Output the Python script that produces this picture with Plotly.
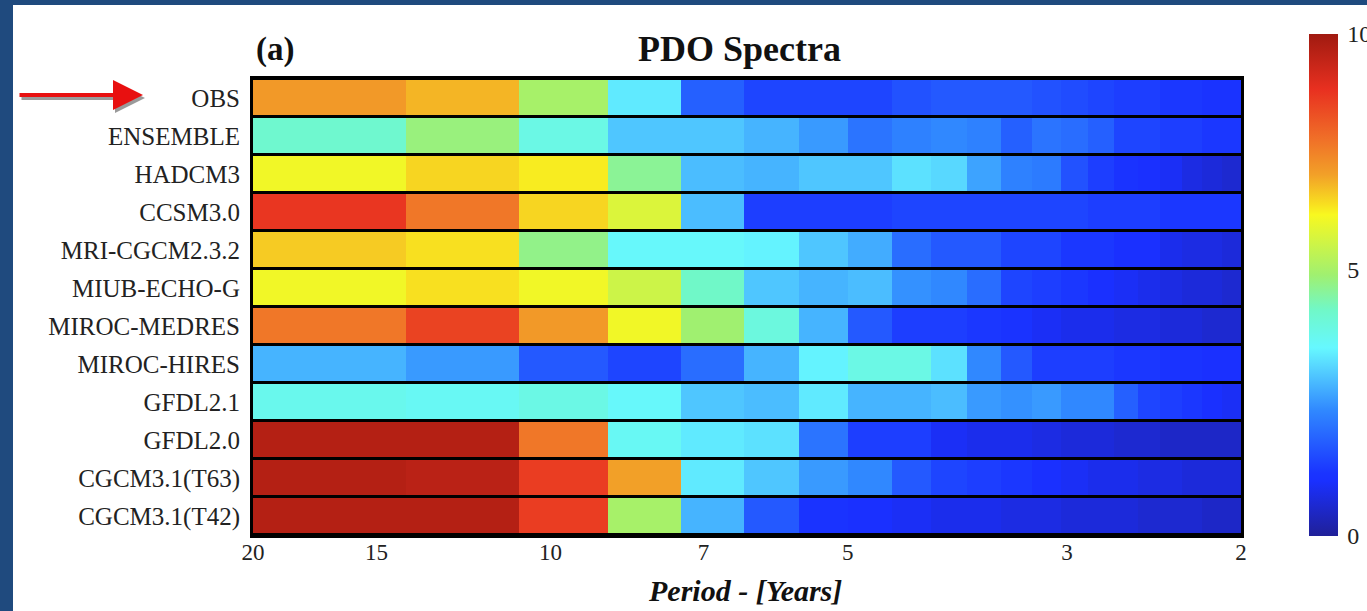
import plotly.graph_objects as go

# ---------------- data ----------------
models = ["OBS", "ENSEMBLE", "HADCM3", "CCSM3.0", "MRI-CGCM2.3.2", "MIUB-ECHO-G",
          "MIROC-MEDRES", "MIROC-HIRES", "GFDL2.1", "GFDL2.0", "CGCM3.1(T63)", "CGCM3.1(T42)"]

# period bin edges (years), from 20 down to 2
period_edges = [20.0, 14.0, 10.769, 8.75, 7.368, 6.364, 5.6, 5.0, 4.516, 4.118, 3.784,
                3.5, 3.256, 3.043, 2.857, 2.692, 2.545, 2.414, 2.295, 2.188, 2.090, 2.0]

obs       = [7.3, 7.0, 5.3, 3.6, 1.9, 1.5, 1.5, 1.5, 1.7, 1.8, 1.8, 1.8, 1.7, 1.6, 1.5, 1.4, 1.4, 1.3, 1.3, 1.2, 1.2]
ensemble  = [4.4, 5.1, 4.1, 3.2, 3.2, 3.0, 2.7, 2.2, 2.4, 2.5, 2.4, 1.9, 2.2, 2.1, 1.9, 1.5, 1.5, 1.4, 1.4, 1.3, 1.3]
hadcm3    = [6.3, 6.7, 6.5, 4.9, 3.1, 3.0, 3.2, 3.2, 3.5, 3.4, 2.8, 2.4, 2.3, 1.7, 1.4, 1.2, 1.1, 1.0, 0.8, 0.7, 0.6]
ccsm3     = [8.8, 7.8, 6.7, 6.0, 3.1, 1.4, 1.4, 1.4, 1.5, 1.5, 1.5, 1.5, 1.5, 1.5, 1.4, 1.4, 1.4, 1.3, 1.3, 1.3, 1.3]
mri       = [6.8, 6.6, 5.0, 3.8, 3.8, 3.7, 3.2, 2.9, 2.1, 1.8, 1.8, 1.5, 1.5, 1.3, 1.3, 1.1, 1.1, 0.9, 0.8, 0.8, 0.7]
miub      = [6.3, 6.6, 6.3, 5.8, 4.5, 3.2, 3.0, 3.1, 2.6, 2.5, 2.1, 1.5, 1.4, 1.3, 1.1, 1.0, 0.9, 0.8, 0.7, 0.7, 0.6]
miroc_med = [7.8, 8.6, 7.3, 6.3, 5.2, 4.2, 3.0, 1.8, 1.4, 1.4, 1.3, 1.2, 1.0, 0.9, 0.9, 0.8, 0.8, 0.7, 0.7, 0.6, 0.6]
miroc_hi  = [3.0, 2.7, 1.8, 1.5, 2.1, 3.0, 3.7, 4.1, 4.1, 3.5, 2.5, 1.8, 1.4, 1.4, 1.4, 1.3, 1.3, 1.2, 1.2, 1.1, 1.1]
gfdl21    = [4.0, 3.9, 4.1, 3.8, 3.2, 3.1, 3.6, 3.0, 3.0, 3.1, 2.7, 2.6, 2.7, 2.5, 2.5, 1.9, 1.5, 1.4, 1.3, 1.1, 1.0]
gfdl20    = [9.7, 9.7, 7.8, 3.9, 3.6, 3.5, 2.2, 1.4, 1.4, 1.0, 0.9, 0.9, 0.8, 0.7, 0.7, 0.6, 0.6, 0.5, 0.5, 0.5, 0.5]
cgcm_t63  = [9.7, 9.6, 8.7, 7.2, 3.6, 3.2, 2.7, 2.5, 1.8, 1.5, 1.4, 1.3, 1.1, 1.0, 0.9, 0.9, 0.8, 0.8, 0.7, 0.7, 0.7]
cgcm_t42  = [9.7, 9.7, 8.7, 5.3, 3.0, 1.8, 1.2, 1.1, 1.0, 0.9, 0.9, 0.8, 0.8, 0.7, 0.7, 0.7, 0.6, 0.6, 0.6, 0.5, 0.5]

z = [obs, ensemble, hadcm3, ccsm3, mri, miub, miroc_med, miroc_hi, gfdl21, gfdl20, cgcm_t63, cgcm_t42]

x_ticks = [20, 15, 10, 7, 5, 3, 2]
cbar_ticks = [0, 5.3, 10]
cbar_text = ["0", "5", "10"]

# ---------------- styling ----------------
W, H = 1367, 611
L, R, T, B = 253, 126, 79, 76
pw, ph = W - L - R, H - T - B

def px_x(p):
    return (p - L) / pw

def px_y(p):
    return (H - B - p) / ph

jet = [
    [0.00, "#202098"],
    [0.11, "#1a30ff"],
    [0.125, "#1a34ff"],
    [0.25, "#3088ff"],
    [0.34, "#58d8ff"],
    [0.375, "#66f8ff"],
    [0.45, "#70f8c8"],
    [0.52, "#a0f070"],
    [0.64, "#f8f820"],
    [0.66, "#f8e020"],
    [0.72, "#f2a028"],
    [0.79, "#f07028"],
    [0.89, "#e83020"],
    [1.00, "#a01a10"],
]

serif = "Liberation Serif"

fig = go.Figure(go.Heatmap(
    z=z, x=period_edges, y=models,
    zmin=0, zmax=10, colorscale=jet,
    ygap=3,
    colorbar=dict(
        thickness=29, thicknessmode="pixels",
        len=502, lenmode="pixels",
        x=px_x(1309), xanchor="left", xpad=0,
        y=px_y(285), yanchor="middle", ypad=0,
        outlinewidth=0,
        tickvals=cbar_ticks, ticktext=cbar_text,
        ticks="outside", ticklen=5, tickcolor="rgba(0,0,0,0)",
        tickfont=dict(family=serif, size=24, color="#222"),
    ),
))

fig.update_xaxes(
    type="log", range=[1.30103, 0.30103],
    tickvals=x_ticks, ticktext=[str(v) for v in x_ticks],
    tickfont=dict(family=serif, size=23, color="#222"),
    ticks="", ticklabelstandoff=-6,
    showgrid=False, zeroline=False,
    showline=True, linecolor="black", linewidth=3, mirror=True,
)
fig.update_yaxes(
    autorange="reversed",
    tickfont=dict(family=serif, size=25, color="#222"),
    ticks="outside", ticklen=5, tickcolor="rgba(0,0,0,0)",
    showgrid=False, zeroline=False,
    showline=True, linecolor="black", linewidth=3, mirror=True,
)

frame_blue = "#1f4a7e"
shapes = [
    dict(type="rect", xref="paper", yref="paper", layer="above",
         x0=px_x(-2), x1=px_x(13), y0=px_y(H + 2), y1=px_y(-2),
         fillcolor=frame_blue, line=dict(width=0)),
    dict(type="rect", xref="paper", yref="paper", layer="above",
         x0=px_x(-2), x1=px_x(W + 2), y0=px_y(5), y1=px_y(-2),
         fillcolor=frame_blue, line=dict(width=0)),
]

annotations = [
    dict(text="<b>PDO Spectra</b>", x=px_x(739), y=px_y(49), xref="paper", yref="paper",
         xanchor="center", yanchor="middle", showarrow=False,
         font=dict(family=serif, size=36, color="#111")),
    dict(text="<b>(a)</b>", x=px_x(254), y=px_y(50), xref="paper", yref="paper",
         xanchor="left", yanchor="middle", showarrow=False,
         font=dict(family=serif, size=33, color="#111")),
    dict(text="<b><i>Period - [Years]</i></b>", x=px_x(745), y=px_y(590), xref="paper", yref="paper",
         xanchor="center", yanchor="middle", showarrow=False,
         font=dict(family=serif, size=30, color="#111")),
    # arrow shadow
    dict(text="", x=px_x(145), y=px_y(98), xref="paper", yref="paper",
         showarrow=True, ax=-125, ay=0, arrowcolor="#9a9a9a",
         arrowhead=2, arrowsize=1.5, arrowwidth=4),
    # red arrow pointing at OBS
    dict(text="", x=px_x(143), y=px_y(95), xref="paper", yref="paper",
         showarrow=True, ax=-125, ay=0, arrowcolor="#e81010",
         arrowhead=2, arrowsize=1.5, arrowwidth=4),
]

fig.update_layout(
    width=W, height=H,
    margin=dict(l=L, r=R, t=T, b=B, pad=0, autoexpand=False),
    paper_bgcolor="white", plot_bgcolor="black",
    shapes=shapes, annotations=annotations,
    showlegend=False,
)

fig.write_html("out.html")
